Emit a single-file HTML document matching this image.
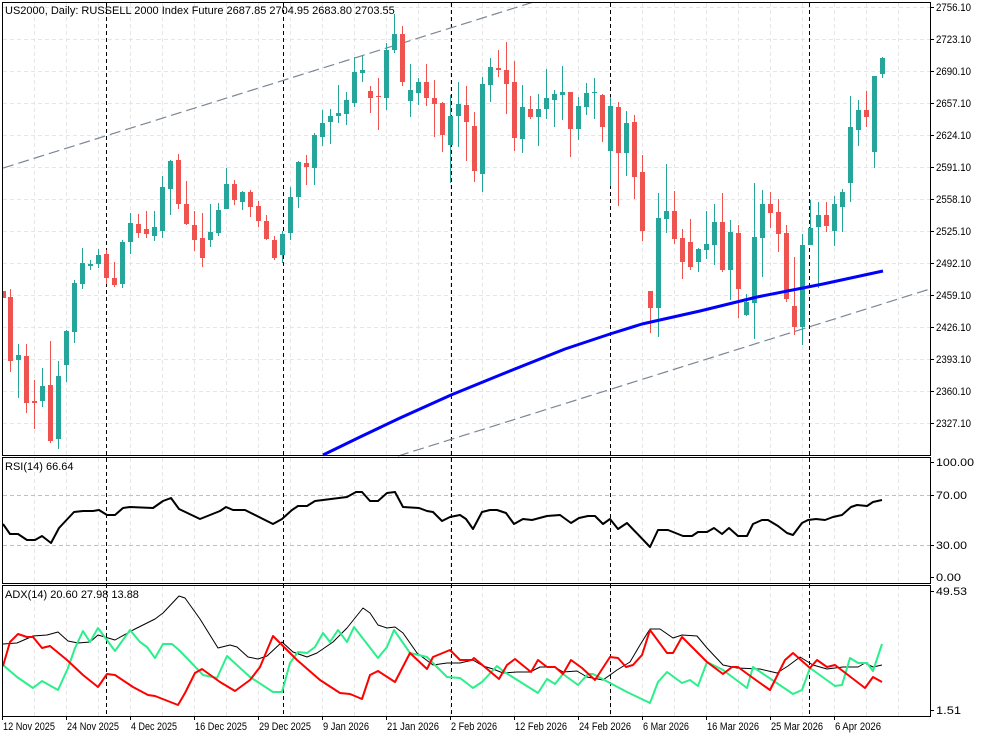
<!DOCTYPE html>
<html><head><meta charset="utf-8"><style>
html,body{margin:0;padding:0;background:#fff;}
svg{display:block;font-family:"Liberation Sans",sans-serif;font-size:11px;}
</style></head><body>
<svg id="c" width="983" height="737" viewBox="0 0 983 737" xmlns="http://www.w3.org/2000/svg">
<rect width="983" height="737" fill="#fff"/>
<g id="grid"></g>
<g id="main"></g>
<g id="txt"></g>
</svg>
<script>
var NS="http://www.w3.org/2000/svg";
function el(p,t,a,txt){var e=document.createElementNS(NS,t);for(var k in a)e.setAttribute(k,a[k]);if(txt!==undefined)e.textContent=txt;p.appendChild(e);return e;}
var G=document.getElementById('grid'),M=document.getElementById('main'),T=document.getElementById('txt');
for(var k=0;k<=29;k++){var x=2+32*k+0.5;
 [[3,455],[458,583],[586,716]].forEach(function(r){el(G,'line',{x1:x,x2:x,y1:r[0],y2:r[1],stroke:'#e6e6e6','stroke-dasharray':'4,3'});});}
for(var i=0;i<14;i++){var y=7+32*i+0.5;el(G,'line',{x1:3,x2:930,y1:y,y2:y,stroke:'#e6e6e6','stroke-dasharray':'4,3'});}
[495.5,545.5].forEach(function(y){el(G,'line',{x1:3,x2:930,y1:y,y2:y,stroke:'#c0c0c0','stroke-dasharray':'4,3'});});
[106,283,451,610,809].forEach(function(x){el(G,'line',{x1:x+0.5,x2:x+0.5,y1:3,y2:716,stroke:'#000','stroke-dasharray':'4,3'});});
el(M,'line',{x1:3,y1:169-0.313*3,x2:535,y2:169-0.313*535,stroke:'#7b8794','stroke-width':1.2,'stroke-dasharray':'11,5'});
el(M,'line',{x1:398,y1:359-0.314*(398-707),x2:930,y2:359-0.314*(930-707),stroke:'#7b8794','stroke-width':1.2,'stroke-dasharray':'11,5'});
var C=[
['R',291,298,289,300],['R',297,361,289,372],['G',355,360,344,398],['R',356,403,344,413],['R',401,403,380,429],['G',386,401,368,407],['R',385,441,341,443],['G',376,439,361,449],['G',331,365,330,382],['G',283,332,280,343],
['G',263,284,248,289],['G',264,266,260,270],['G',255,264,249,268],['R',254,278,250,284],['R',278,285,262,287],['G',242,284,240,288],['G',223,242,213,254],['R',224,233,214,238],['R',229,234,211,238],['G',227,236,211,241],
['G',187,231,176,238],['G',161,189,160,215],['R',160,204,154,209],['R',204,224,181,225],['R',225,240,211,251],['R',238,258,213,267],['G',232,240,204,247],['G',210,233,203,236],['G',184,209,168,209],['R',184,200,180,205],
['G',192,202,191,210],['R',192,207,190,217],['R',206,221,201,227],['R',221,239,215,240],['R',240,258,236,260],['G',234,255,231,263],['G',197,233,187,240],['G',162,197,161,208],['R',163,167,155,185],['G',135,168,133,185],
['G',123,137,110,146],['G',116,122,109,144],['G',113,116,85,123],['G',100,114,92,125],['G',72,103,57,107],['G',70,73,56,82],['R',91,98,86,113],['R',96,97,78,130],['G',50,98,43,110],['G',34,50,14,53],
['R',34,82,26,86],['G',90,101,64,117],['G',82,93,78,105],['R',82,98,64,106],['R',98,104,80,137],['R',103,135,102,152],['G',116,145,95,183],['G',104,116,82,147],['R',105,122,86,161],['R',126,171,112,182],
['G',84,174,77,192],['G',67,85,58,102],['R',68,70,50,77],['R',70,84,42,114],['R',82,138,61,151],['G',107,139,85,153],['R',109,117,96,119],['G',109,117,94,146],['G',98,109,69,119],['G',94,100,90,127],
['G',92,95,66,120],['R',92,129,92,157],['G',106,129,97,140],['G',93,107,83,115],['G',92,93,78,119],['R',95,127,94,142],['G',106,151,97,186],['R',107,153,102,206],['G',123,153,111,176],['R',122,177,115,199],
['R',172,231,155,241],['R',291,308,291,333],['G',218,308,193,337],['G',211,219,164,233],['R',211,239,191,244],['R',238,262,229,279],['R',242,267,219,270],['G',249,262,248,272],['G',244,250,211,259],['G',222,245,204,265],
['R',222,270,193,272],['G',232,270,220,300],['R',233,289,225,318],['G',302,315,294,316],['G',237,303,183,339],['G',204,238,190,277],['R',204,213,192,228],['R',212,234,199,252],['R',233,299,225,302],['R',306,327,257,335],
['G',245,327,234,345],['G',228,245,200,245],['G',215,227,202,288],['R',215,226,202,232],['G',204,231,196,246],['G',192,207,189,232],['G',127,183,96,202],['G',110,130,100,146],['R',110,117,91,127],['G',76,152,76,168],
['G',58,74,57,78]];
C.forEach(function(c,k){var x=2+8*k,col=c[0]=='G'?'#26a69a':'#ef5350';
 el(M,'rect',{x:x,y:c[3],width:1,height:Math.max(1,c[4]-c[3]),fill:col});
 var bx=k==0?3:x-2;
 el(M,'rect',{x:bx,y:c[1],width:k==0?3:5,height:Math.max(1,c[2]-c[1]),fill:col});});
function pl(pts,col,w){el(M,'polyline',{points:pts.map(function(p){return p.join(',');}).join(' '),fill:'none',stroke:col,'stroke-width':w,'stroke-linejoin':'round'});}
pl([[323,455],[360,437],[400,418],[451,395],[500,375],[565,349],[610,334],[642,324],[700,311],[757,297],[823,284],[883,271]],'#0000ff',3);
pl([[3,524],[10,534],[18,534],[27,540],[35,540],[42,536],[51,543],[59,528],[74,512],[83,511],[93,511],[99,510],[107,515],[115,515],[123,508],[130,507],[153,508],[163,501],[171,498],[179,509],[200,519],[220,511],[226,507],[233,510],[245,510],[273,524],[282,519],[292,510],[298,506],[307,506],[315,501],[323,500],[347,497],[356,492],[362,492],[370,501],[378,501],[387,493],[395,492],[403,507],[419,508],[427,511],[433,512],[442,521],[450,517],[460,515],[466,519],[473,529],[482,512],[490,510],[497,510],[506,513],[514,524],[523,519],[532,520],[547,516],[560,515],[571,523],[579,518],[588,516],[595,516],[603,524],[610,519],[618,529],[627,523],[650,547],[658,530],[668,530],[683,536],[692,536],[698,532],[707,532],[714,528],[722,534],[729,528],[738,536],[747,536],[753,524],[762,520],[768,520],[778,526],[787,533],[793,535],[802,523],[808,520],[816,519],[825,520],[833,517],[842,515],[851,507],[857,505],[867,506],[873,502],[882,500]],'#000',2);
pl([[3,644],[17,643],[33,636],[47,635],[58,632],[68,641],[78,643],[90,642],[98,635],[115,640],[133,630],[155,619],[163,613],[179,596],[185,598],[200,619],[218,648],[230,645],[237,647],[248,657],[258,659],[267,656],[282,642],[293,652],[307,657],[317,653],[333,642],[347,628],[363,608],[370,613],[378,625],[387,628],[395,627],[403,633],[417,653],[433,665],[447,663],[460,663],[473,660],[483,666],[493,669],[503,673],[517,672],[530,672],[540,667],[555,667],[563,672],[577,671],[587,677],[603,680],[617,670],[630,662],[640,645],[650,629],[660,629],[673,638],[682,635],[697,636],[707,648],[723,665],[737,668],[760,669],[777,673],[788,666],[800,657],[813,665],[827,669],[843,667],[858,667],[865,663],[873,667],[882,665]],'#000',1);
pl([[3,665],[17,677],[33,688],[42,681],[58,690],[68,668],[75,648],[83,631],[90,642],[98,628],[115,651],[130,630],[140,642],[147,647],[155,658],[163,644],[172,644],[180,651],[203,675],[217,678],[227,656],[250,677],[273,692],[282,692],[290,663],[298,652],[307,653],[315,647],[323,633],[330,642],[338,630],[347,642],[354,627],[378,658],[387,647],[394,630],[410,653],[427,657],[447,677],[460,678],[473,688],[482,682],[497,666],[503,671],[538,693],[547,679],[555,684],[563,674],[578,685],[588,674],[593,674],[627,692],[650,703],[658,682],[667,672],[682,683],[690,680],[698,686],[707,662],[723,670],[747,688],[753,667],[793,694],[802,690],[810,668],[835,686],[842,685],[850,658],[858,663],[867,663],[873,671],[882,644]],'#2bef8a',2);
pl([[3,666],[10,642],[18,634],[27,637],[33,637],[42,648],[50,646],[67,660],[83,675],[98,687],[107,674],[115,675],[133,687],[148,695],[155,696],[178,705],[185,693],[195,673],[202,669],[220,682],[235,691],[250,680],[260,667],[273,636],[282,645],[297,660],[320,680],[340,693],[350,694],[362,699],[370,675],[378,671],[395,682],[410,653],[427,669],[433,657],[450,650],[460,660],[472,660],[474,658],[499,679],[507,665],[515,659],[531,672],[538,660],[547,667],[555,667],[563,674],[571,660],[582,668],[595,680],[610,657],[618,658],[626,667],[633,665],[642,655],[650,630],[667,653],[673,653],[682,637],[693,648],[707,662],[723,674],[732,667],[738,667],[753,678],[770,690],[785,660],[793,653],[810,668],[817,660],[827,667],[835,665],[865,688],[873,677],[882,682]],'#ff0000',2);
[[2,2,928,453],[2,457,928,126],[2,585,928,131]].forEach(function(r){el(T,'rect',{x:r[0]+0.5,y:r[1]+0.5,width:r[2],height:r[3],fill:'none',stroke:'#000','stroke-width':1});});
el(T,'text',{x:5,y:14,fill:'#000'},'US2000, Daily:  RUSSELL 2000 Index Future  2687.85 2704.95 2683.80 2703.55');
el(T,'text',{x:5,y:470,fill:'#000'},'RSI(14) 66.64');
el(T,'text',{x:5,y:598,fill:'#000'},'ADX(14) 20.60 27.98 13.88');
var pr=['2756.10','2723.10','2690.10','2657.10','2624.10','2591.10','2558.10','2525.10','2492.10','2459.10','2426.10','2393.10','2360.10','2327.10'];
pr.forEach(function(p,i){var y=7+32*i;el(T,'line',{x1:930,x2:934,y1:y+0.5,y2:y+0.5,stroke:'#000'});el(T,'text',{x:936,y:y+4,fill:'#000',textLength:35,lengthAdjust:'spacingAndGlyphs'},p);});
[[462,'100.00',38],[495,'70.00',31],[545,'30.00',31],[577,'0.00',25],[591,'49.53',31],[710,'1.51',25]].forEach(function(a){el(T,'line',{x1:930,x2:934,y1:a[0]+0.5,y2:a[0]+0.5,stroke:'#000'});el(T,'text',{x:936,y:a[0]+4,fill:'#000',textLength:a[2],lengthAdjust:'spacingAndGlyphs'},a[1]);});
var d=['12 Nov 2025','24 Nov 2025','4 Dec 2025','16 Dec 2025','29 Dec 2025','9 Jan 2026','21 Jan 2026','2 Feb 2026','12 Feb 2026','24 Feb 2026','6 Mar 2026','16 Mar 2026','25 Mar 2026','6 Apr 2026'];
d.forEach(function(s,i){var x=2+64*i;el(T,'line',{x1:x+0.5,x2:x+0.5,y1:716,y2:720,stroke:'#000'});
 var L=s.length==11?52:46;
 el(T,'text',{x:x+1,y:730,fill:'#000',textLength:L,lengthAdjust:'spacingAndGlyphs'},s);});
</script>
</body></html>
